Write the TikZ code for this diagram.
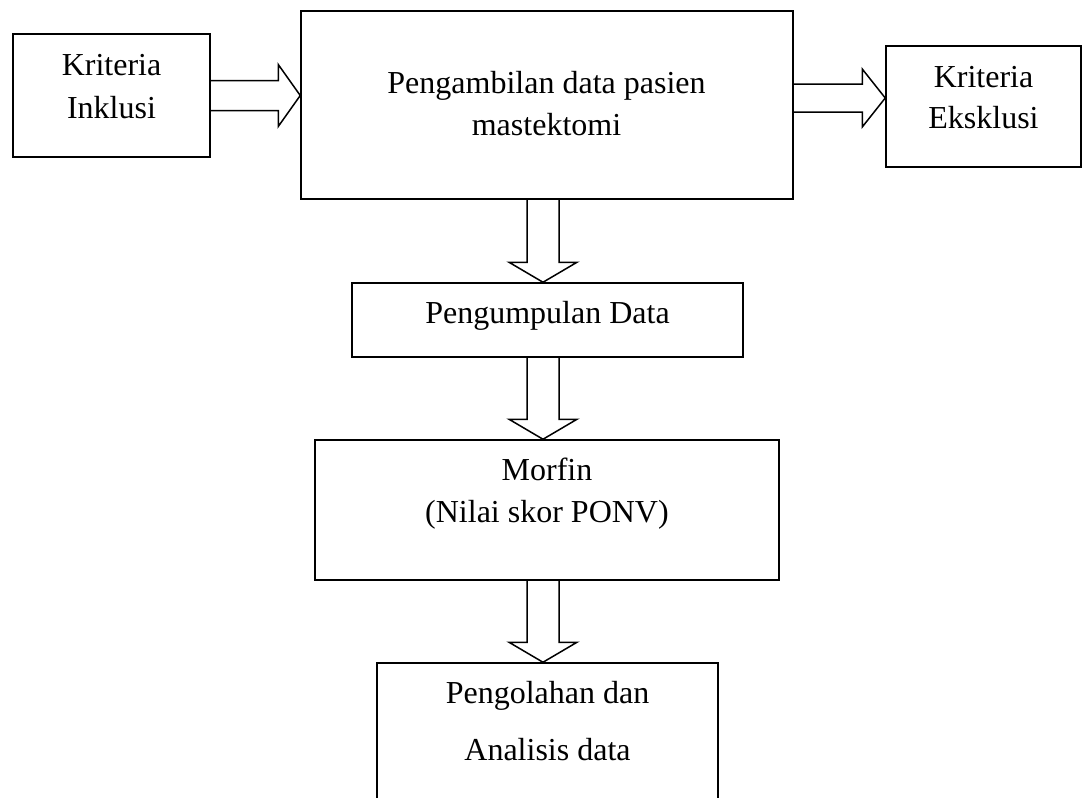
\documentclass[tikz,border=0pt]{standalone}
\usepackage{fontspec}
\setmainfont{Liberation Serif}
\usetikzlibrary{calc}
\begin{document}
\begin{tikzpicture}[x=1pt,y=-1pt,
  box/.style={draw,line width=1.5pt,rectangle,inner sep=0pt},
  txt/.style={anchor=base,inner sep=0pt,font=\fontsize{32}{38}\selectfont},
  blk/.style={draw,line width=1.5pt,line join=miter}]
\path[use as bounding box] (0,0) rectangle (1082,798);
\clip (0,0) rectangle (1082,798);
% boxes
\node[box,minimum width=197pt,minimum height=123pt] (inkl) at (111.5,95.5) {};
\node[box,minimum width=492pt,minimum height=188pt] (main) at (547,105) {};
\node[box,minimum width=195pt,minimum height=121pt] (eks) at (983.5,106.5) {};
\node[box,minimum width=391pt,minimum height=74pt] (peng) at (547.5,320) {};
\node[box,minimum width=464pt,minimum height=140pt] (morf) at (547,510) {};
\node[box,minimum width=341pt,minimum height=200pt] (olah) at (547.5,763) {};
% texts
\node[txt] (ta1) at (111.5,75) {Kriteria};
\node[txt] (ta2) at (111.5,118) {Inklusi};
\node[txt] (tb1) at (546.5,93) {Pengambilan data pasien};
\node[txt] (tb2) at (546.5,135) {mastektomi};
\node[txt] (tc1) at (983.5,87) {Kriteria};
\node[txt] (tc2) at (983.5,128) {Eksklusi};
\node[txt] (td1) at (547.5,323) {Pengumpulan Data};
\node[txt] (te1) at (547,480) {Morfin};
\node[txt] (te2) at (547,522) {(Nilai skor PONV)};
\node[txt] (tf1) at (547.5,703) {Pengolahan dan};
\node[txt] (tf2) at (547.5,760) {Analisis data};
% right block arrow inkl -> main
\coordinate (A1) at (inkl.east);
\coordinate (T1) at (A1 -| main.west);
\draw[blk] ($(A1)+(0,-15)$) -- ($(T1)+(-22,-15)$) -- ($(T1)+(-22,-31)$) -- (T1)
  -- ($(T1)+(-22,31)$) -- ($(T1)+(-22,15)$) -- ($(A1)+(0,15)$);
% right block arrow main -> eks
\path ($(main.east)+(0,-7)$) coordinate (A2);
\coordinate (T2) at (A2 -| eks.west);
\draw[blk] ($(A2)+(0,-14)$) -- ($(T2)+(-23,-14)$) -- ($(T2)+(-23,-29)$) -- (T2)
  -- ($(T2)+(-23,29)$) -- ($(T2)+(-23,14)$) -- ($(A2)+(0,14)$);
% down block arrows
\path ($(main.south)+(-4,0)$) coordinate (A3);
\coordinate (T3) at (A3 |- peng.north);
\draw[blk] ($(A3)+(-16,0)$) -- ($(T3)+(-16,-20)$) -- ($(T3)+(-34,-20)$) -- (T3)
  -- ($(T3)+(34,-20)$) -- ($(T3)+(16,-20)$) -- ($(A3)+(16,0)$);
\path ($(peng.south)+(-4.5,0)$) coordinate (A4);
\coordinate (T4) at (A4 |- morf.north);
\draw[blk] ($(A4)+(-16,0)$) -- ($(T4)+(-16,-20)$) -- ($(T4)+(-34,-20)$) -- (T4)
  -- ($(T4)+(34,-20)$) -- ($(T4)+(16,-20)$) -- ($(A4)+(16,0)$);
\path ($(morf.south)+(-4,0)$) coordinate (A5);
\coordinate (T5) at (A5 |- olah.north);
\draw[blk] ($(A5)+(-16,0)$) -- ($(T5)+(-16,-20)$) -- ($(T5)+(-34,-20)$) -- (T5)
  -- ($(T5)+(34,-20)$) -- ($(T5)+(16,-20)$) -- ($(A5)+(16,0)$);
\end{tikzpicture}
\end{document}
